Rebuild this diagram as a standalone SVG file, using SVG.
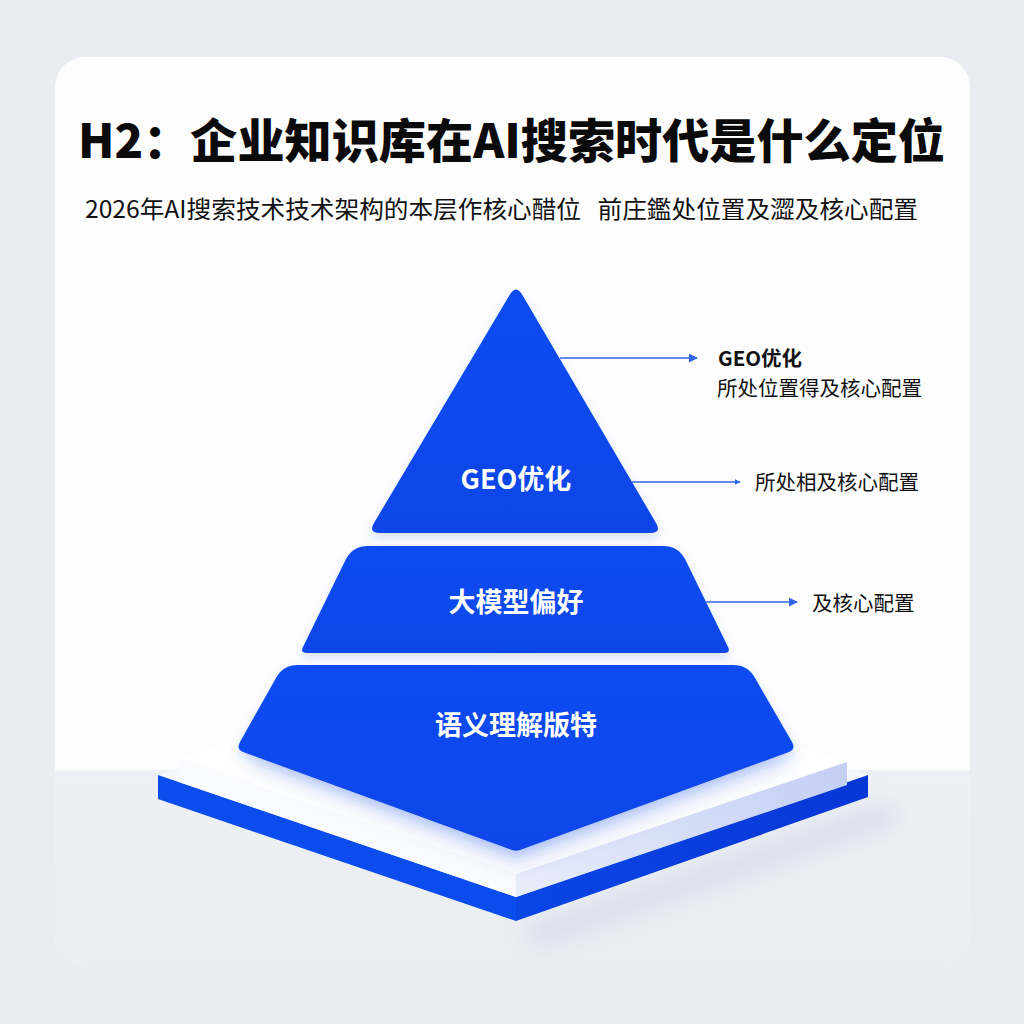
<svg xmlns="http://www.w3.org/2000/svg" width="1024" height="1024" viewBox="0 0 1024 1024">
  <defs>
    <style>
      .title { font-family: "Noto Sans CJK SC", "Noto Sans", sans-serif; font-weight: 900; font-size: 47px; fill: #0a0a0a; }
      .sub { font-family: "Noto Sans CJK SC", "Noto Sans", sans-serif; font-weight: 400; font-size: 24px; fill: #111; }
      .layer-label { font-family: "Noto Sans CJK SC", "Noto Sans", sans-serif; font-weight: 700; font-size: 27px; fill: #ffffff; text-anchor: middle; }
      .note { font-family: "Noto Sans CJK SC", "Noto Sans", sans-serif; font-weight: 400; font-size: 20.5px; fill: #111; }
      .note-b { font-family: "Noto Sans CJK SC", "Noto Sans", sans-serif; font-weight: 700; font-size: 20.5px; fill: #111; }
      .layer { fill: url(#blueGrad); filter: url(#layerShadow); }
      .conn { stroke: #2f66e6; stroke-width: 1.6; fill: none; }
    </style>
    <linearGradient id="blueGrad" x1="0" y1="0" x2="0" y2="1">
      <stop offset="0" stop-color="#0b4cf2"/>
      <stop offset="1" stop-color="#0945e8"/>
    </linearGradient>
    <linearGradient id="rightFace" x1="0" y1="0" x2="1" y2="0">
      <stop offset="0" stop-color="#e9edfb"/>
      <stop offset="1" stop-color="#c3cff4"/>
    </linearGradient>
    <linearGradient id="blueRight" x1="0" y1="0" x2="1" y2="0">
      <stop offset="0" stop-color="#0a45e6"/>
      <stop offset="1" stop-color="#0737d6"/>
    </linearGradient>
    <linearGradient id="floorGrad" x1="0" y1="0" x2="0" y2="1">
      <stop offset="0" stop-color="#edf0f4"/>
      <stop offset="1" stop-color="#eaedf2"/>
    </linearGradient>
    <filter id="layerShadow" x="-20%" y="-20%" width="140%" height="150%">
      <feDropShadow dx="0" dy="5" stdDeviation="5" flood-color="#2a5be0" flood-opacity="0.18"/>
    </filter>
    <filter id="blur12" x="-30%" y="-30%" width="160%" height="160%">
      <feGaussianBlur stdDeviation="12"/>
    </filter>
    <marker id="arrowL" viewBox="0 0 10 10" refX="9" refY="5" markerWidth="9" markerHeight="9" markerUnits="userSpaceOnUse" orient="auto">
      <path d="M0,0 L10,5 L0,10 Z" fill="#2f66e6"/>
    </marker>
    <marker id="arrowS" viewBox="0 0 10 10" refX="9" refY="5" markerWidth="6" markerHeight="6" markerUnits="userSpaceOnUse" orient="auto">
      <path d="M0,0 L10,5 L0,10 Z" fill="#2f66e6"/>
    </marker>
    <clipPath id="cardClip">
      <rect x="55" y="57" width="915" height="908" rx="30" ry="30"/>
    </clipPath>
  </defs>

  <!-- page background -->
  <rect x="0" y="0" width="1024" height="1024" fill="#e9ecf0"/>

  <!-- card -->
  <g id="card">
    <rect x="55" y="57" width="915" height="908" rx="30" ry="30" fill="#fdfdfe"/>
    <g clip-path="url(#cardClip)">
      <rect x="55" y="770" width="915" height="200" fill="url(#floorGrad)"/>
    </g>
  </g>

  <!-- title texts -->
  <g id="title">
    <text class="title" x="78" y="158" textLength="867" lengthAdjust="spacingAndGlyphs">H2：企业知识库在AI搜索时代是什么定位</text>
  </g>
  <g id="subtitle">
    <text class="sub" x="85" y="218" textLength="833" lengthAdjust="spacingAndGlyphs" xml:space="preserve">2026年AI搜索技术技术架构的本层作核心醋位   前庄鑑处位置及澀及核心配置</text>
  </g>

  <!-- base platform -->
  <g id="base">
    <polygon points="520,930 880,805 905,820 540,945" fill="#b7c4e6" opacity="0.45" filter="url(#blur12)"/>
    <polygon points="158,775 516,897 868,775 516,660" fill="#f6f8fc"/>
    <polygon points="158,775 516,897 516,921 158,799" fill="#0b4cef"/>
    <polygon points="516,897 868,775 868,797 516,921" fill="url(#blueRight)"/>
    <polygon points="179,759 516,874 847,762 516,650" fill="#ffffff"/>
    <polygon points="179,759 516,874 516,897 179,782" fill="#fafbfe"/>
    <polygon points="516,874 847,762 847,785 516,897" fill="url(#rightFace)"/>
    <polygon points="250,760 516,862 790,760 760,720 270,720" fill="#5f84ea" opacity="0.35" filter="url(#blur12)"/>
  </g>

  <!-- pyramid layers -->
  <g id="layer-bottom">
    <path class="layer" d="M298,665 L733,665 Q748,665 755,678 L792,742 Q796,749 789,752 L520,850 Q516,851.5 512,850 L243,752 Q236,749 240,742 L276,678 Q283,665 298,665 Z"/>
    <text class="layer-label" x="516" y="735">语义理解版特</text>
  </g>
  <g id="layer-middle">
    <path class="layer" d="M368,546 L663,546 Q678,546 685,559 L728,647 Q731,653 724,653 L307,653 Q300,653 303,647 L346,559 Q353,546 368,546 Z"/>
    <text class="layer-label" x="516" y="612">大模型偏好</text>
  </g>
  <g id="layer-top">
    <path class="layer" d="M509,296 Q516,283 523,296 L656,523 Q662,533 650,533 L380,533 Q368,533 374,523 Z"/>
    <text class="layer-label" x="516" y="489">GEO优化</text>
  </g>

  <!-- connectors -->
  <g id="connectors">
    <line class="conn" x1="560" y1="358" x2="697" y2="358" marker-end="url(#arrowL)"/>
    <line class="conn" x1="632" y1="482" x2="740" y2="482" marker-end="url(#arrowS)"/>
    <line class="conn" x1="705" y1="602" x2="797" y2="602" marker-end="url(#arrowL)"/>
  </g>

  <!-- annotations -->
  <g id="note-1">
    <text class="note-b" x="718" y="366">GEO优化</text>
    <text class="note" x="717" y="396">所处位置得及核心配置</text>
  </g>
  <g id="note-2">
    <text class="note" x="755" y="490">所处相及核心配置</text>
  </g>
  <g id="note-3">
    <text class="note" x="812" y="611">及核心配置</text>
  </g>
</svg>
